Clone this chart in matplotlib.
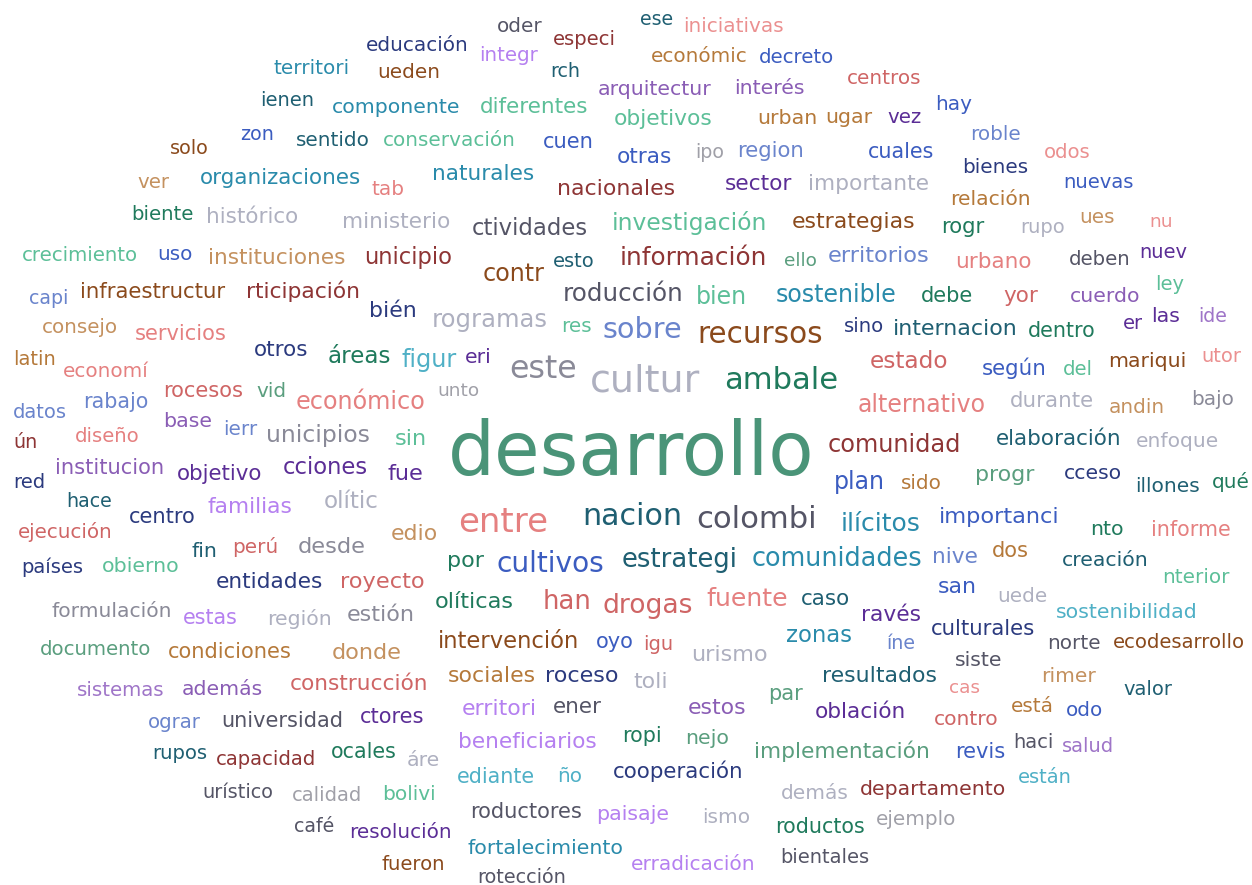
#Nube de palabras (desarrollo, cultivos, drogas...)

import matplotlib.pyplot as plt

# colores de la paleta
colores = {
    "navy": "#2b3a7e",
    "blue": "#3b5cc0",
    "lightblue": "#6a84cc",
    "teal": "#2a8bab",
    "lightteal": "#4fb0c6",
    "darkteal": "#1f5f72",
    "green": "#4a9478",
    "darkgreen": "#1f7a5c",
    "mint": "#5cbf98",
    "sage": "#5a9e7e",
    "brown": "#8b4a1c",
    "tan": "#b5793a",
    "lighttan": "#c4915f",
    "darkred": "#8e3535",
    "salmonred": "#cf6565",
    "salmon": "#e58080",
    "pink": "#eb9090",
    "purple": "#8a5db5",
    "darkpurple": "#5b2d96",
    "lilac": "#9f75c8",
    "lavender": "#b580f0",
    "gray": "#8a8a98",
    "darkgray": "#555566",
    "lightgray": "#aeb0c0",
    "silvergray": "#a0a0a8",
}

# palabras por color: (palabra, x, y_base, tamaño en px)
navy = [("educación", 366, 51, 20), ("bién", 369, 317, 22), ("bienes", 962, 173, 20),
        ("otros", 254, 356, 21.5), ("red", 13, 488, 19.5), ("centro", 129, 523, 21),
        ("países", 21, 573, 19.5), ("entidades", 216, 588, 21.7), ("sino", 844, 332, 19.6),
        ("cceso", 1064, 479, 20.4), ("roceso", 545, 682, 22.3), ("cooperación", 613, 778, 21.4),
        ("culturales", 931, 635, 21.3)]
blue = [("uso", 157, 260, 20), ("cuen", 543, 148, 21), ("otras", 617, 163, 21.6),
        ("cuales", 868, 158, 20.6), ("nuevas", 1063, 188, 19.7), ("decreto", 759, 63, 19.8),
        ("hay", 935, 110, 20), ("cultivos", 497, 572, 28), ("plan", 834, 489, 23.6),
        ("según", 982, 375, 21.4), ("importanci", 939, 523, 22.5), ("san", 938, 593, 22),
        ("oyo", 596, 648, 21), ("revis", 955, 758, 21), ("odo", 1066, 716, 20),
        ("zon", 240, 140, 19)]
lightblue = [("region", 737, 157, 21.3), ("sobre", 603, 338, 28.6), ("rabajo", 83, 408, 20.6),
             ("ierr", 223, 435, 20), ("nive", 932, 563, 21.7), ("erritorios", 828, 262, 22.5),
             ("roble", 970, 140, 20), ("capi", 29, 304, 19), ("datos", 13, 418, 19.5),
             ("ograr", 148, 728, 19.8), ("íne", 887, 649, 19)]
teal = [("componente", 332, 113, 20.4), ("organizaciones", 200, 184, 21.5),
        ("naturales", 432, 180, 21.7), ("sostenible", 776, 302, 23.7),
        ("comunidades", 752, 566, 25.5), ("ilícitos", 841, 531, 25),
        ("fortalecimiento", 467, 854, 20.5), ("zonas", 786, 642, 22.7),
        ("territori", 274, 74, 20)]
lightteal = [("figur", 402, 367, 24), ("sostenibilidad", 1056, 618, 20.5),
             ("ediante", 457, 783, 20.6), ("ño", 557, 782, 20), ("están", 1018, 783, 19.5)]
darkteal = [("ese", 640, 25, 19), ("rch", 550, 77, 19), ("ienen", 260, 106, 19.5),
            ("sentido", 296, 146, 20), ("esto", 553, 267, 19.5), ("internacion", 893, 335, 22.1),
            ("nacion", 582, 525, 30.1), ("estrategi", 622, 567, 25.9),
            ("elaboración", 996, 445, 21.5), ("illones", 1135, 492, 20.2),
            ("creación", 1062, 566, 20.4), ("caso", 801, 605, 21.5),
            ("resultados", 822, 682, 22), ("valor", 1123, 695, 19.5), ("hace", 66, 507, 19),
            ("fin", 192, 557, 20.5), ("rupos", 152, 759, 19.6)]
green = [("desarrollo", 448, 475, 74)]
darkgreen = [("biente", 131, 220, 19.8), ("ambale", 724, 389, 30.6), ("áreas", 328, 363, 23),
             ("rogr", 941, 233, 21.3), ("debe", 921, 302, 21), ("dentro", 1028, 337, 20.6),
             ("por", 447, 567, 22.3), ("qué", 1212, 488, 20), ("nto", 1090, 535, 20.5),
             ("olíticas", 435, 608, 22.4), ("ropi", 622, 742, 20.7), ("ocales", 331, 758, 20.7),
             ("roductos", 775, 833, 20.6)]
mint = [("crecimiento", 22, 261, 19.8), ("conservación", 383, 146, 20),
        ("diferentes", 480, 113, 21.5), ("objetivos", 614, 125, 21.8),
        ("investigación", 612, 230, 23.4), ("bien", 696, 304, 23.6), ("res", 561, 332, 20),
        ("del", 1063, 375, 19.6), ("ley", 1155, 290, 19.5), ("obierno", 102, 572, 20.5),
        ("bolivi", 382, 800, 20.2), ("nterior", 1162, 583, 20), ("sin", 395, 445, 22.5)]
sage = [("ello", 784, 266, 18.5), ("vid", 256, 397, 20), ("progr", 975, 481, 22.2),
        ("documento", 40, 655, 19.8), ("par", 768, 700, 21), ("nejo", 685, 744, 20.5),
        ("implementación", 754, 758, 21.8)]
brown = [("infraestructur", 80, 298, 21.3), ("recursos", 697, 343, 29.5),
         ("contr", 483, 281, 23.9), ("estrategias", 792, 228, 22), ("mariqui", 1108, 367, 20.4),
         ("intervención", 438, 648, 22.6), ("ecodesarrollo", 1113, 648, 19.7),
         ("fueron", 381, 870, 19.6), ("solo", 170, 154, 19.3), ("ueden", 377, 78, 20)]
tan = [("económic", 651, 62, 20), ("urban", 757, 124, 20.5), ("ugar", 825, 123, 20.5),
       ("relación", 950, 205, 20.3), ("latin", 13, 365, 19.5), ("condiciones", 168, 658, 21),
       ("sociales", 448, 682, 22), ("sido", 901, 489, 20), ("dos", 992, 557, 21),
       ("está", 1011, 712, 20)]
lighttan = [("ver", 137, 188, 19.8), ("instituciones", 208, 264, 21.6), ("ues", 1079, 223, 20),
            ("consejo", 42, 333, 19.9), ("edio", 391, 540, 22), ("donde", 332, 659, 22.4),
            ("andin", 1109, 413, 20), ("rimer", 1041, 682, 20.3)]
darkred = [("especi", 553, 45, 19.6), ("unicipio", 364, 264, 22.6),
           ("rticipación", 246, 298, 21.8), ("nacionales", 557, 195, 22),
           ("información", 620, 265, 24.7), ("comunidad", 828, 452, 24), ("ún", 13, 448, 19),
           ("capacidad", 216, 765, 19.7), ("departamento", 860, 795, 20.4)]
salmonred = [("centros", 847, 84, 20), ("yor", 1003, 302, 21.5), ("rocesos", 163, 397, 21),
             ("estado", 870, 368, 23.3), ("ejecución", 18, 538, 19.9), ("perú", 232, 553, 20),
             ("royecto", 340, 588, 22.5), ("construcción", 290, 690, 21.6),
             ("han", 543, 609, 26), ("drogas", 602, 613, 26.5), ("igu", 643, 650, 19.5),
             ("contro", 934, 725, 20.3)]
salmon = [("tab", 372, 195, 20), ("servicios", 135, 340, 21), ("economí", 63, 377, 20),
          ("diseño", 75, 442, 19.7), ("económico", 296, 409, 23.9), ("entre", 458, 532, 34),
          ("alternativo", 858, 412, 23.6), ("urbano", 955, 268, 21.5),
          ("fuente", 706, 606, 25.3), ("informe", 1151, 536, 20.6)]
pink = [("iniciativas", 683, 32, 20), ("odos", 1044, 158, 19.7), ("nu", 1149, 227, 18.5),
        ("utor", 1201, 362, 19.5), ("cas", 949, 693, 18.5)]
purple = [("arquitectur", 598, 95, 20.5), ("interés", 734, 94, 20.5), ("base", 163, 427, 20.5),
          ("institucion", 55, 474, 21), ("además", 182, 695, 20.4), ("estos", 688, 714, 22),
          ("cuerdo", 1070, 302, 20.4)]
darkpurple = [("vez", 887, 123, 19.8), ("sector", 725, 190, 21.6), ("eri", 465, 363, 20.5),
              ("objetivo", 177, 480, 21.4), ("cciones", 283, 474, 22.6), ("fue", 388, 480, 22.5),
              ("er", 1123, 329, 19.5), ("las", 1151, 322, 20.5), ("nuev", 1139, 258, 19.5),
              ("ctores", 360, 723, 21), ("oblación", 815, 718, 21.6),
              ("resolución", 349, 838, 20), ("ravés", 861, 621, 21.8)]
lilac = [("ide", 1198, 322, 19), ("sistemas", 77, 696, 19.8), ("salud", 1062, 752, 19.5)]
lavender = [("integr", 479, 61, 19.9), ("familias", 207, 513, 21.8), ("estas", 183, 624, 20.7),
            ("erritori", 462, 715, 22), ("beneficiarios", 458, 748, 21.7),
            ("paisaje", 596, 820, 20.5), ("erradicación", 631, 870, 20.2)]
gray = [("este", 509, 378, 31.7), ("unicipios", 266, 442, 23.5), ("desde", 298, 553, 22.5),
        ("estión", 347, 621, 22.3), ("formulación", 51, 617, 20.3), ("bajo", 1191, 405, 20)]
darkgray = [("oder", 497, 32, 20), ("ctividades", 472, 235, 22.7),
            ("roducción", 563, 301, 24.6), ("colombi", 696, 528, 30.7), ("deben", 1069, 265, 19.8),
            ("universidad", 221, 727, 20.9), ("urístico", 202, 798, 19.3), ("café", 294, 832, 19),
            ("roductores", 470, 818, 21), ("bientales", 780, 863, 19.4),
            ("rotección", 477, 883, 19.3), ("norte", 1047, 649, 20), ("siste", 955, 666, 20.5),
            ("ener", 553, 713, 21.5), ("haci", 1013, 748, 19.5)]
lightgray = [("histórico", 206, 223, 21.5), ("ministerio", 342, 228, 21.6),
             ("importante", 808, 190, 21.8), ("cultur", 590, 392, 38),
             ("rogramas", 432, 327, 24.2), ("olític", 324, 508, 23), ("región", 267, 625, 20.4),
             ("durante", 1010, 407, 21.4), ("enfoque", 1136, 447, 20.3),
             ("urismo", 691, 661, 22.4), ("toli", 633, 688, 22), ("áre", 407, 766, 20.5),
             ("demás", 781, 799, 20.2), ("ismo", 702, 823, 20.1), ("uede", 997, 602, 20),
             ("rupo", 1020, 233, 19.5)]
silvergray = [("ipo", 695, 158, 19), ("unto", 437, 396, 18.5), ("calidad", 292, 801, 19.4),
              ("ejemplo", 876, 825, 20)]

grupos = {
    "navy": navy, "blue": blue, "lightblue": lightblue, "teal": teal,
    "lightteal": lightteal, "darkteal": darkteal, "green": green,
    "darkgreen": darkgreen, "mint": mint, "sage": sage, "brown": brown,
    "tan": tan, "lighttan": lighttan, "darkred": darkred,
    "salmonred": salmonred, "salmon": salmon, "pink": pink, "purple": purple,
    "darkpurple": darkpurple, "lilac": lilac, "lavender": lavender,
    "gray": gray, "darkgray": darkgray, "lightgray": lightgray,
    "silvergray": silvergray,
}

W, H = 1252, 885
dpi = 100

fig = plt.figure(figsize=(W / dpi, H / dpi), dpi=dpi)
ax = fig.add_axes([0, 0, 1, 1])
ax.set_xlim(0, W)
ax.set_ylim(H, 0)
ax.axis("off")

for nombre, palabras in grupos.items():
    for palabra, x, y, px in palabras:
        ax.text(x, y, palabra, color=colores[nombre], fontsize=px * 72 / dpi,
                family="DejaVu Sans", ha="left", va="baseline")

fig.savefig("out.png", dpi=dpi, facecolor="white")
